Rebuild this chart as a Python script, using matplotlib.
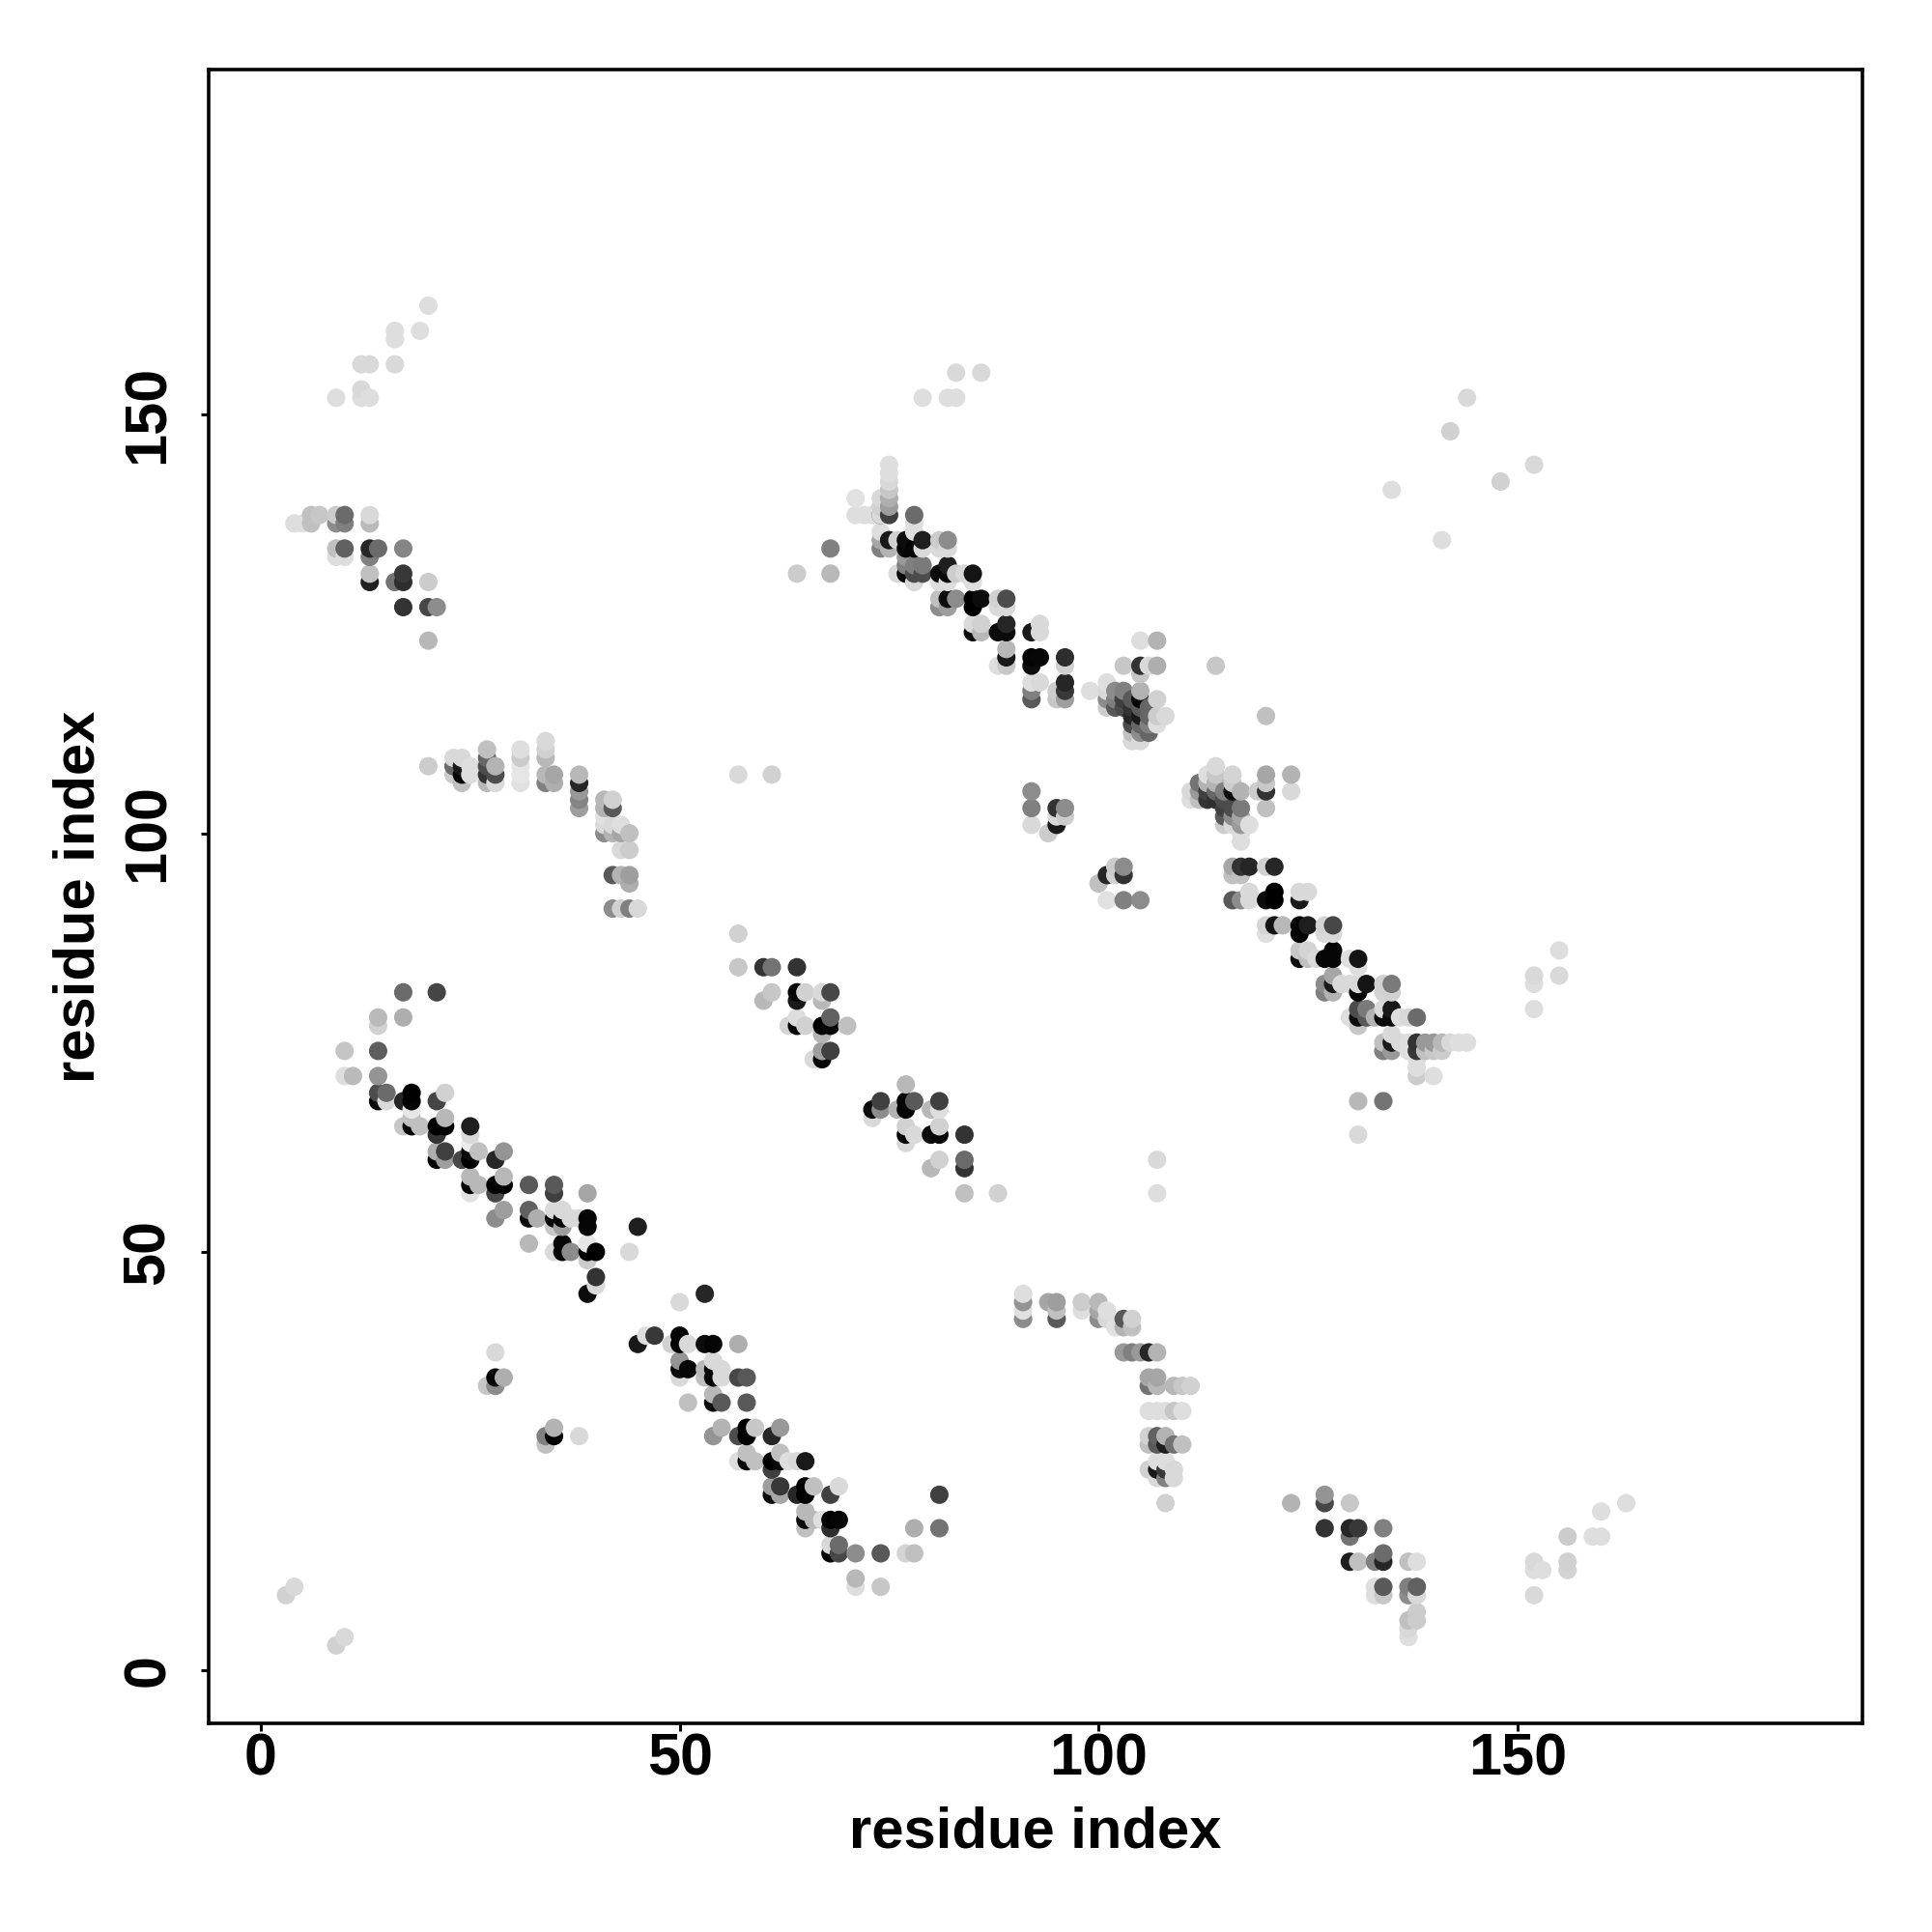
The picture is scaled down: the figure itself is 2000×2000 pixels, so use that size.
from matplotlib import pyplot as plt

import numpy as np

# points, one block per patch: residue i, residue j, grey level

corner_x = [4, 5, 6, 6, 7, 9, 9, 10, 10, 13, 13, 9, 9, 10, 10, 13, 13, 14, 17, 13, 13, 16, 17, 17, 20, 17, 20, 21, 20]
corner_y = [137, 137, 137, 138, 138, 137, 138, 137, 138, 137, 138, 134, 133, 133, 134, 134, 133, 134, 134, 130, 131, 130, 130, 131, 130, 127, 127, 127, 123]
corner_g = [.87, .87, .75, .75, .78, .55, .8, .5, .42, .73, .85, .75, .87, .87, .38, .15, .5, .42, .52, .13, .75, .45, .18, .22, .8, .2, .28, .55, .72]

top_x = [9, 12, 13, 12, 12, 13, 16, 16, 16, 19, 20, 79, 82, 83, 83, 86, 135, 142, 144, 148, 152, 141, 64, 68, 68]
top_y = [152, 152, 152, 153, 156, 156, 156, 159, 160, 160, 163, 152, 152, 152, 155, 155, 141, 148, 152, 142, 144, 135, 131, 131, 134]
top_g = [.87, .87, .87, .85, .85, .85, .85, .87, .87, .87, .87, .87, .87, .87, .85, .85, .87, .82, .85, .82, .85, .87, .8, .72, .5]

helix_x = [17, 21, 14, 14, 17, 10, 14, 10, 11, 14, 14, 14, 15, 15, 17, 18, 18, 18, 22, 21, 17, 18, 18, 19,
           21, 22, 21, 22, 25, 25, 25, 21, 21, 22, 22, 24, 25, 25, 26, 28, 29, 25, 25, 25, 26, 28, 29, 28, 29,
           32, 35, 35, 39, 28, 29, 32, 32, 33, 32, 35, 36, 35, 36, 37, 35, 36, 39, 39, 38, 45, 35, 36, 36, 37,
           39, 39, 40, 39, 44, 40, 40, 39]
helix_y = [81, 81, 78, 77, 78, 74, 74, 71, 71, 71, 69, 68, 69, 68, 68, 69, 68, 67, 69, 68, 65, 65, 66, 65,
           65, 65, 64, 66, 65, 64, 63, 62, 61, 61, 62, 61, 61, 62, 62, 61, 62, 59, 58, 57, 58, 58, 58, 57, 59,
           58, 58, 57, 57, 54, 55, 55, 54, 54, 51, 55, 55, 54, 54, 54, 53, 53, 54, 53, 54, 53, 50, 51, 50, 50,
           51, 50, 50, 49, 50, 47, 46, 45]
helix_g = [.42, .27, .73, .82, .68, .77, .37, .87, .73, .58, .3, .05, .42, .85, .15, .0, .02, .9, .82, .27, .78, .03, .75, .75,
           .0, .0, .2, .72, .12, .85, .92, .68, .02, .62, .25, .28, .0, .05, .75, .15, .58, .72, .02, .88, .72, .0, .0, .28, .72,
           .35, .35, .25, .65, .55, .62, .38, .05, .68, .72, .85, .85, .02, .02, .85, .78, .62, .02, .02, .85, .12, .85, .03, .02, .55,
           .9, .0, .0, .8, .85, .2, .85, .05]

low_x = [50, 53, 45, 46, 47, 49, 50, 50, 51, 53, 54, 57, 50, 50, 50, 51, 53, 53, 54, 54, 54, 55, 55, 57, 58,
         51, 54, 54, 55, 58, 54, 55, 57, 58, 58, 59, 61, 62, 57, 58, 58, 59, 61, 61, 62, 62, 63, 64, 65,
         61, 61, 62, 62, 64, 65, 65, 66, 68, 69, 65, 65, 65, 66, 67, 68, 69, 68, 68, 68, 69, 69,
         71, 74, 77, 78, 78, 81, 81, 71, 71, 74]
low_y = [44, 45, 39, 40, 40, 39, 40, 39, 39, 39, 39, 39, 37, 36, 35, 36, 36, 35, 37, 36, 35, 36, 35, 35, 35,
         32, 33, 32, 32, 32, 28, 29, 28, 29, 28, 29, 28, 29, 25, 26, 25, 25, 25, 24, 26, 25, 25, 25, 25,
         22, 21, 22, 21, 21, 22, 21, 22, 21, 22, 19, 18, 17, 18, 18, 18, 18, 17, 15, 14, 15, 14,
         14, 14, 14, 14, 17, 17, 21, 11, 10, 10]
low_g = [.85, .15, .1, .87, .22, .82, .02, .0, .85, .05, .02, .68, .58, .05, .85, .03, .72, .75, .85, .03, .02, .85, .85, .28, .35,
         .75, .72, .05, .35, .35, .58, .7, .3, .0, .0, .78, .15, .6, .87, .75, .02, .75, .0, .25, .75, .03, .87, .85, .1,
         .62, .05, .22, .65, .15, .0, .0, .75, .25, .85, .72, .05, .75, .72, .87, .0, .02, .18, .85, .02, .42, .28,
         .55, .35, .83, .75, .68, .45, .25, .72, .87, .78]

up_x = [71, 71, 72, 73, 74, 74, 74, 75, 75, 75, 75, 75, 75, 75, 74, 74, 74, 74, 75, 75, 78, 78, 78,
        76, 77, 77, 79, 78, 79, 81, 81, 82, 82, 77, 77, 77, 78, 79, 78, 79, 78, 76,
        81, 82, 82, 83, 84, 85, 81, 85, 82, 81, 81, 82, 82, 83, 85, 85, 86, 88, 88, 89, 89,
        85, 85, 86, 86, 88, 89, 89, 92, 93, 93, 89, 89, 89, 88, 92, 92, 93, 96, 96,
        92, 93, 92, 92, 95, 95, 96, 96, 96, 99, 101]
up_y = [140, 138, 138, 138, 140, 139, 138, 141, 144, 143, 142, 140, 139, 138, 136, 135, 134, 138, 135, 134, 138, 137, 136,
        135, 135, 134, 135, 134, 134, 135, 134, 135, 134, 133, 132, 131, 132, 132, 131, 131, 130, 131,
        131, 132, 131, 131, 131, 131, 130, 130, 130, 128, 127, 128, 127, 128, 128, 127, 128, 128, 127, 128, 127,
        125, 124, 125, 124, 124, 125, 124, 124, 125, 124, 122, 121, 120, 120, 121, 120, 121, 121, 120,
        118, 118, 117, 116, 117, 116, 118, 117, 116, 117, 118]
up_g = [.88, .87, .87, .87, .85, .82, .3, .78, .87, .87, .85, .68, .62, .25, .87, .65, .5, .85, .1, .7, .42, .87, .87,
        .82, .05, .02, .12, .02, .85, .8, .85, .55, .85, .6, .5, .03, .5, .48, .3, .3, .85, .85,
        .05, .12, .03, .8, .85, .08, .87, .87, .87, .75, .55, .05, .62, .55, .0, .0, .05, .82, .85, .3, .85,
        .85, .05, .82, .72, .05, .15, .05, .1, .85, .85, .72, .1, .78, .87, .02, .05, .03, .18, .82,
        .87, .85, .5, .35, .8, .78, .15, .22, .62, .87, .87]

blob1_x = [103, 105, 107, 105, 106, 107, 105, 114, 101, 101, 101, 102, 102, 102, 103, 103, 103, 104, 104, 104, 104, 104, 104,
           105, 105, 105, 105, 105, 105, 105, 106, 106, 106, 106, 107, 107, 107, 108, 120]
blob1_y = [120, 123, 123, 120, 120, 120, 119, 120, 117, 116, 115, 117, 116, 115, 117, 116, 115, 116, 115, 114, 113, 112, 111,
           117, 116, 115, 114, 113, 112, 111, 115, 114, 113, 112, 116, 114, 113, 114, 114]
blob1_g = [.78, .87, .7, .2, .85, .68, .78, .78, .85, .55, .8, .55, .5, .35, .5, .25, .3, .35, .2, .15, .3, .75, .85,
           .7, .02, .35, .1, .4, .55, .85, .4, .4, .5, .4, .82, .8, .87, .85, .75]

small_x = [92, 92, 92, 95, 96, 95, 94, 96, 95, 100, 101, 102, 102, 103, 103, 101, 103, 105, 57, 61, 107, 107, 28, 28, 27, 28, 29, 34, 34, 35, 35, 38]
small_y = [105, 103, 101, 103, 103, 101, 100, 102, 102, 94, 95, 96, 95, 96, 95, 92, 92, 92, 107, 107, 61, 57, 38, 35, 34, 34, 35, 27, 28, 28, 29, 28]
small_g = [.55, .5, .85, .2, .55, .1, .8, .8, .85, .75, .15, .8, .82, .55, .2, .88, .5, .55, .85, .82, .85, .87, .85, .02, .78, .55, .68, .75, .5, .02, .7, .85]

blob2_x = [114, 114, 113, 116, 116, 112, 111, 111, 112, 112, 113, 113, 113, 114, 114, 114, 115, 115, 116, 117, 115, 116, 117,
           115, 116, 117, 115, 116, 117, 118, 117, 117, 119, 120, 120, 120, 120, 123, 123]
blob2_y = [108, 107, 107, 107, 106, 106, 105, 104, 105, 104, 106, 105, 104, 106, 105, 104, 105, 104, 105, 105, 103, 103, 103,
           102, 102, 102, 101, 101, 101, 101, 100, 99, 105, 107, 106, 105, 103, 107, 105]
blob2_g = [.85, .78, .87, .83, .8, .45, .85, .87, .6, .75, .7, .25, .2, .7, .4, .18, .5, .3, .05, .7, .25, .3, .48,
           .35, .55, .65, .8, .85, .6, .87, .87, .87, .8, .65, .78, .2, .75, .7, .85]

lowdiag_x = [116, 117, 118, 120, 121, 116, 117, 116, 117, 118, 118, 120, 121, 121, 124, 125, 124,
             120, 120, 121, 122, 124, 124, 125, 127, 127, 128, 128,
             124, 124, 125, 125, 126, 127, 128, 128, 130, 131, 131,
             127, 127, 128, 128, 128, 129, 130, 131, 131, 132, 134, 134, 135, 135,
             130, 131, 131, 131, 132, 132, 133, 134, 134, 135, 135, 136, 137, 138,
             134, 134, 135, 135, 135, 136, 137, 137, 138, 138, 139, 139, 140, 140, 141, 141, 142, 143, 144,
             138, 138, 138, 140, 131, 134, 131, 152, 152, 152, 155, 155]
lowdiag_y = [96, 96, 96, 96, 96, 95, 95, 92, 92, 92, 93, 92, 93, 92, 93, 93, 92,
             89, 88, 89, 89, 89, 88, 89, 89, 88, 89, 88,
             86, 85, 86, 85, 85, 85, 86, 85, 85, 85, 84,
             82, 81, 83, 82, 81, 82, 82, 82, 81, 82, 82, 81, 82, 81,
             78, 79, 78, 77, 79, 78, 78, 79, 78, 79, 78, 78, 78, 78,
             75, 74, 76, 75, 74, 75, 75, 74, 75, 74, 75, 74, 75, 74, 75, 74, 75, 75, 75,
             73, 72, 71, 71, 68, 68, 64, 83, 82, 79, 86, 83]
lowdiag_g = [.65, .2, .15, .82, .15, .75, .75, .35, .55, .85, .85, .05, .0, .0, .85, .85, .1,
             .83, .87, .08, .72, .02, .02, .12, .83, .85, .28, .85,
             .78, .05, .83, .75, .85, .02, .02, .02, .87, .08, .87,
             .55, .5, .65, .1, .7, .85, .85, .85, .02, .08, .82, .83, .48, .82,
             .87, .3, .05, .78, .48, .35, .7, .85, .03, .1, .05, .87, .85, .42,
             .75, .5, .85, .1, .6, .85, .87, .87, .2, .22, .6, .75, .6, .78, .72, .8, .85, .87, .87,
             .87, .87, .8, .87, .72, .45, .85, .85, .87, .87, .87, .85]

mid_x = [20, 23, 23, 23, 24, 24, 24, 24, 25, 25, 27, 27, 27, 27, 27, 28, 28, 28,
         31, 31, 31, 31, 31, 34, 34, 34, 34, 34, 35, 35, 38, 38, 38, 38, 38,
         41, 41, 42, 42, 41, 42, 41, 43, 41, 42, 43, 44, 43, 44, 42, 43, 44, 44, 42, 43, 44, 45]
mid_y = [108, 109, 108, 107, 109, 108, 107, 106, 107, 108, 110, 109, 108, 107, 106, 108, 107, 106,
         110, 109, 108, 107, 106, 111, 110, 109, 107, 106, 107, 106, 107, 106, 105, 104, 103,
         104, 103, 104, 103, 102, 101, 101, 101, 100, 100, 100, 100, 98, 98, 95, 95, 95, 94, 91, 91, 91, 91]
mid_g = [.8, .85, .42, .8, .85, .1, .02, .75, .87, .87, .75, .4, .3, .2, .72, .7, .3, .85,
         .87, .8, .9, .9, .88, .85, .82, .72, .72, .5, .65, .68, .72, .15, .6, .52, .62,
         .72, .7, .82, .35, .88, .85, .85, .87, .55, .7, .65, .75, .85, .8, .35, .7, .62, .68, .55, .82, .5, .85]

center_x = [57, 57, 60, 61, 64, 61, 60, 64, 64, 65, 67, 67, 68, 63, 64, 64, 65, 67, 68, 68, 67, 70, 68, 67, 67, 66,
            77, 73, 73, 74, 74, 76, 77, 77, 78, 80, 81, 81, 77, 77, 77, 78, 80, 81, 81, 84, 81, 80, 84, 84, 84, 88]
center_y = [88, 84, 84, 84, 84, 81, 80, 81, 80, 81, 81, 80, 81, 77, 78, 77, 77, 77, 77, 78, 76, 77, 74, 74, 73, 73,
            70, 67, 66, 68, 67, 67, 68, 67, 68, 67, 68, 67, 65, 64, 63, 64, 64, 64, 65, 64, 61, 60, 61, 60, 57, 57]
center_g = [.82, .78, .2, .45, .2, .78, .72, .02, .1, .82, .85, .72, .28, .83, .87, .02, .82, .0, .02, .38, .7, .75, .25, .62, .02, .85,
            .72, .05, .85, .25, .55, .7, .02, .02, .35, .72, .25, .87, .82, .03, .85, .85, .05, .02, .82, .2, .82, .72, .42, .2, .75, .82]

arc_x = [91, 91, 91, 91, 94, 95, 95, 95, 98, 98, 100, 100, 100, 101, 101, 102, 103, 103, 104, 104,
         103, 104, 105, 106, 107, 106, 107, 106, 107, 109, 110, 111, 106, 107, 108, 109, 110,
         106, 106, 107, 107, 108, 108, 109, 110, 106, 107, 107, 107, 108, 108, 108, 109, 109, 108]
arc_y = [45, 44, 43, 42, 44, 44, 43, 42, 44, 43, 44, 43, 42, 43, 42, 41, 42, 41, 42, 41,
         38, 38, 38, 38, 38, 35, 35, 34, 34, 34, 34, 34, 31, 31, 31, 31, 31,
         28, 27, 28, 27, 28, 27, 27, 27, 24, 25, 24, 23, 25, 24, 23, 24, 23, 20]
arc_g = [.87, .58, .88, .55, .65, .62, .75, .35, .8, .87, .72, .65, .55, .87, .85, .88, .35, .7, .82, .75,
         .6, .5, .6, .15, .7, .65, .65, .45, .72, .72, .78, .82, .87, .87, .87, .78, .87,
         .82, .75, .38, .35, .7, .12, .45, .75, .82, .87, .1, .85, .87, .22, .5, .85, .85, .82]

tail_x = [123, 127, 127, 130, 127, 130, 131, 130, 134, 130, 131, 133, 134, 134, 137, 138,
          133, 133, 134, 134, 137, 137, 138, 138, 138, 137, 138, 137, 137,
          163, 160, 156, 159, 160, 156, 156, 152, 152, 153, 152, 3, 4, 9, 10]
tail_y = [20, 21, 20, 20, 17, 17, 17, 16, 17, 13, 13, 13, 13, 14, 13, 13,
          10, 9, 10, 9, 10, 9, 10, 9, 7, 6, 6, 5, 4,
          20, 19, 16, 16, 16, 13, 12, 13, 12, 12, 9, 9, 10, 3, 4]
tail_g = [.7, .58, .28, .78, .2, .15, .22, .45, .5, .12, .75, .5, .15, .42, .75, .87,
          .87, .87, .35, .78, .5, .55, .38, .85, .8, .75, .8, .85, .87,
          .87, .87, .8, .87, .87, .82, .83, .85, .87, .87, .85, .82, .85, .82, .85]

x_ticks = [0, 50, 100, 150]
y_ticks = [0, 50, 100, 150]


def main():

    x = np.array(corner_x + top_x + helix_x + low_x + up_x + blob1_x + small_x + blob2_x + lowdiag_x + mid_x + center_x + arc_x + tail_x)
    y = np.array(corner_y + top_y + helix_y + low_y + up_y + blob1_y + small_y + blob2_y + lowdiag_y + mid_y + center_y + arc_y + tail_y)
    g = np.array(corner_g + top_g + helix_g + low_g + up_g + blob1_g + small_g + blob2_g + lowdiag_g + mid_g + center_g + arc_g + tail_g)

    # later residues paint over earlier ones
    order = np.lexsort((y, x))

    plt.rcParams['font.family'] = ['Liberation Sans']

    fig = plt.figure(figsize=(10, 10), dpi=200)
    ax = fig.add_axes([0.108, 0.108, 0.856, 0.856])

    ax.scatter(x[order], y[order], c=g[order], cmap='gray', vmin=0, vmax=1,
               s=47, linewidths=0, clip_on=True)

    ax.set_xlim(-6.23, 191.2)
    ax.set_ylim(-6.3, 191.2)

    ax.set_xticks(x_ticks)
    ax.set_yticks(y_ticks)
    ax.tick_params(axis='x', length=3, width=1.1, pad=0.5, labelsize=22)
    ax.tick_params(axis='y', length=3, width=1.1, pad=9, labelsize=22)
    for label in ax.get_xticklabels() + ax.get_yticklabels():
        label.set_fontweight('bold')
    for label in ax.get_yticklabels():
        label.set_rotation(90)
        label.set_verticalalignment('center')

    for spine in ax.spines.values():
        spine.set_linewidth(1.3)

    ax.set_xlabel('residue index', fontsize=21.5, fontweight='bold')
    ax.set_ylabel('residue index', fontsize=21.5, fontweight='bold')
    ax.xaxis.set_label_coords(0.5, -0.05)
    ax.yaxis.set_label_coords(-0.062, 0.5)

    fig.savefig('out.png', dpi=200)


if __name__ == '__main__':

    main()
